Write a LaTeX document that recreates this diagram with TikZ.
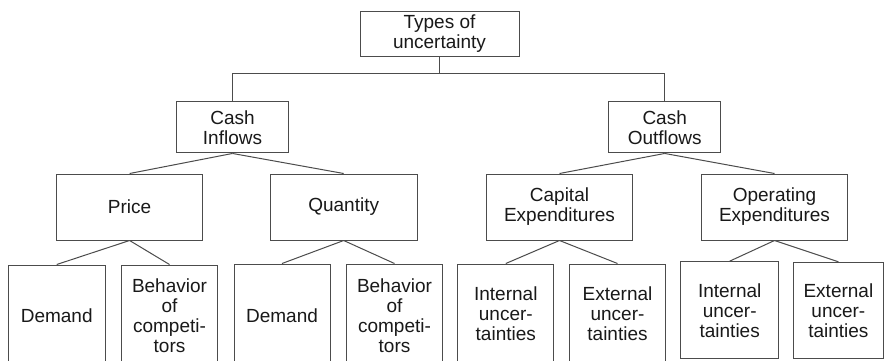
\documentclass[tikz,border=0pt]{standalone}
\usepackage{fontspec}
\setmainfont{Liberation Sans}
\begin{document}
\begin{tikzpicture}[x=1pt,y=-1pt,
  box/.style={draw=black!70, line width=1pt, rectangle, inner sep=0pt,
    align=center, text=black!90, font=\fontsize{19}{20}\selectfont},
  link/.style={draw=black!70, line width=1pt}]
\clip (0,0) rectangle (884,360);
\fill[white] (0,0) rectangle (884,360);

% root
\node[box, minimum width=159pt, minimum height=45pt] (root) at (439.5,33.5) {Types of\\uncertainty};

% second level
\node[box, minimum width=111.6pt, minimum height=51.3pt] (in) at (232.5,127.3) {Cash\\Inflows};
\node[box, minimum width=112pt, minimum height=51.3pt] (out) at (664.7,127.3) {Cash\\Outflows};

% third level
\node[box, minimum width=146.2pt, minimum height=66pt] (price) at (129.6,207) {Price};
\node[box, minimum width=147.3pt, minimum height=66pt] (qty) at (343.7,207) {Quantity};
\node[box, minimum width=146.4pt, minimum height=66pt] (capex) at (559.5,207) {Capital\\Expenditures};
\node[box, minimum width=146.4pt, minimum height=66pt] (opex) at (774.5,207) {Operating\\Expenditures};

% leaves
\node[box, minimum width=96.7pt, minimum height=102pt] (dem1) at (56.7,316) {Demand};
\node[box, minimum width=95.6pt, minimum height=102pt] (beh1) at (169.5,316) {Behavior\\of\\competi-\\tors};
\node[box, minimum width=96pt, minimum height=103pt] (dem2) at (282,315.5) {Demand};
\node[box, minimum width=95.6pt, minimum height=103pt] (beh2) at (394.5,315.5) {Behavior\\of\\competi-\\tors};
\node[box, minimum width=95.7pt, minimum height=99pt] (int1) at (505.8,313.5) {Internal\\uncer-\\tainties};
\node[box, minimum width=95.6pt, minimum height=99pt] (ext1) at (617.5,313.5) {External\\uncer-\\tainties};
\node[box, minimum width=98pt, minimum height=97.3pt] (int2) at (729.7,310.3) {Internal\\uncer-\\tainties};
\node[box, minimum width=90.2pt, minimum height=96pt] (ext2) at (838.4,310.3) {External\\uncer-\\tainties};

% connectors
\coordinate (bar) at (root.south |- 0,73.7);
\draw[link] (root.south) -- (bar);
\draw[link] (in.north) |- (bar) -| (out.north);

\draw[link] (in.south) -- (price.north);
\draw[link] (in.south) -- (qty.north);
\draw[link] (out.south) -- (capex.north);
\draw[link] (out.south) -- (opex.north);

\draw[link] (price.south) -- (dem1.north);
\draw[link] (price.south) -- (beh1.north);
\draw[link] (qty.south) -- (dem2.north);
\draw[link] (qty.south) -- (beh2.north);
\draw[link] (capex.south) -- (int1.north);
\draw[link] (capex.south) -- (ext1.north);
\draw[link] (opex.south) -- (int2.north);
\draw[link] (opex.south) -- (ext2.north);
\end{tikzpicture}
\end{document}
